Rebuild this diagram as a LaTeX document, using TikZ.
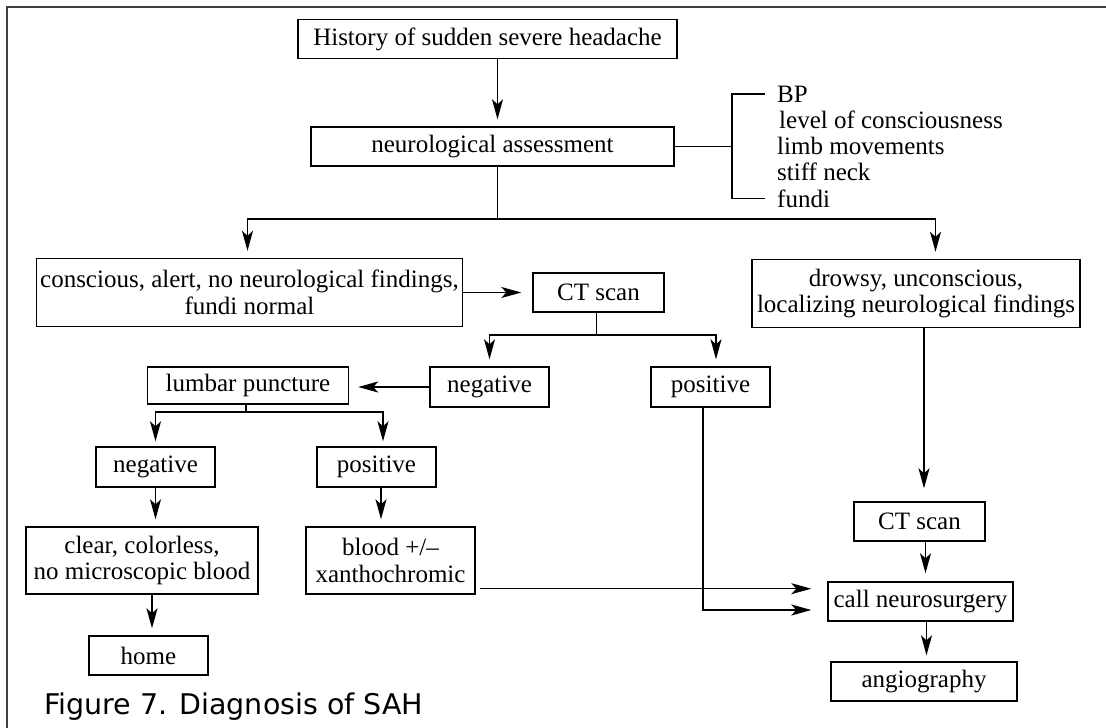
\documentclass[tikz,border=0pt]{standalone}
\usepackage{fontspec}
\setmainfont{Liberation Serif}
\newfontfamily\capfont{DejaVu Sans}
\usetikzlibrary{arrows.meta}

\begin{document}
\begin{tikzpicture}[x=1pt, y=-1pt, >={Stealth[length=20pt,width=11pt,inset=5pt]},
    font=\fontsize{25}{26.5}\selectfont,
    box/.style={draw, line width=1.4pt, inner sep=0pt, minimum height=39pt, align=center},
    tall/.style={box, minimum height=68pt},
    link/.style={line width=1.4pt},
    arr/.style={link, ->, shorten >=7pt}]
    \useasboundingbox (0,0) rectangle (1106,728);
    \draw[line width=2pt, black!75] (1106,7) -- (7,7) -- (7,728);

    \node[box, minimum width=379pt] (hist) at (487.5,39) {History of sudden severe headache};
    \node[box, minimum width=363pt] (neuro) at (492.5,146.5) {neurological assessment};
    \foreach \t [count=\i] in {BP, \hspace*{2pt}level of consciousness, limb movements, stiff neck, fundi}
        \node[anchor=base west, inner sep=0pt] (c\i) at (777,75.75+26.25*\i) {\t};
    \coordinate (brk) at (732,146.5);
    \draw[link] (neuro.east) -- (brk);
    \draw[link] ([xshift=-12pt]c1.west) -| (brk) |- ([xshift=-12pt]c5.west);

    \coordinate (jA) at (497.5,219);
    \draw[arr] (hist.south -| jA) -- (neuro.north -| jA);
    \node[tall, minimum width=426pt] (consc) at (249.5,292.5) {conscious, alert, no neurological findings,\\ fundi normal};
    \node[tall, minimum width=328pt] (drowsy) at (916,293.5) {drowsy, unconscious,\\ localizing neurological findings};
    \draw[link] (neuro.south -| jA) -- (jA);
    \draw[arr] (jA) -| ([xshift=-2pt]consc.north);
    \draw[arr] (jA) -| ([xshift=19.5pt]drowsy.north);

    \node[box, minimum width=131pt] (ct1) at (598.5,292.5) {CT scan};
    \draw[arr, shorten >=11pt] (consc.east) -- (ct1.west);

    \coordinate (jB) at (596.5,335);
    \node[box, minimum width=119pt, minimum height=40pt] (neg1) at (489.5,387) {negative};
    \node[box, minimum width=119pt, minimum height=40pt] (pos1) at (710.5,387) {positive};
    \draw[link] (ct1.south -| jB) -- (jB);
    \draw[arr] (jB) -| (neg1.north);
    \draw[arr] (jB) -| ([xshift=5.5pt]pos1.north);

    \node[box, minimum width=201pt, minimum height=37pt] (lp) at (248,385.5) {lumbar puncture};
    \draw[arr, shorten >=9pt] (neg1.west) -- (neg1.west -| lp.east);

    \coordinate (jC) at (246,412);
    \node[box, minimum width=119pt, minimum height=40pt] (neg2) at (155.5,467) {negative};
    \node[box, minimum width=119pt, minimum height=40pt] (pos2) at (376.5,467) {positive};
    \draw[link] (lp.south -| jC) -- (jC);
    \draw[arr, shorten >=5pt] (jC) -| (neg2.north);
    \draw[arr, shorten >=5pt] (jC) -| ([xshift=6.5pt]pos2.north);

    \node[tall, minimum width=232pt, minimum height=67pt] (clear) at (142,560.5) {clear, colorless,\\ no microscopic blood};
    \node[tall, minimum width=169pt, minimum height=67pt] (blood) at (390.5,560.5) {blood +/–\\ xanthochromic};
    \draw[arr] (neg2.south) -- (neg2.south |- clear.north);
    \draw[arr] ([xshift=4.5pt]pos2.south) -- ([xshift=4.5pt]pos2.south |- blood.north);

    \node[box, minimum width=119pt] (home) at (148.5,655.5) {home};
    \draw[arr] ([xshift=10pt]clear.south) -- ([xshift=10pt]clear.south |- home.north);

    \node[box, minimum width=131pt] (ct2) at (919.5,521.5) {CT scan};
    \node[box, minimum width=185pt] (call) at (920.5,601.5) {call neurosurgery};
    \node[box, minimum width=186pt] (angio) at (924,681.5) {angiography};
    \draw[arr, shorten >=13pt] ([xshift=8pt]drowsy.south) -- ([xshift=8pt]drowsy.south |- ct2.north);
    \draw[arr, shorten >=8pt] ([xshift=6pt]ct2.south) -- ([xshift=6pt]ct2.south |- call.north);
    \draw[arr, shorten >=6pt] ([xshift=6pt]call.south) -- ([xshift=6pt]call.south |- angio.north);

    \coordinate (bl) at ([xshift=4pt,yshift=6pt]blood.south east);
    \draw[arr, shorten >=16pt] (bl) -- (bl -| call.west);
    \draw[arr, shorten >=16pt] ([xshift=-7.5pt]pos1.south) |- ([yshift=-8.5pt]call.west);

    \node[anchor=base west, inner sep=0pt, font=\capfont\fontsize{28.5}{32}\selectfont] (cap) at (44,714) {Figure 7. Diagnosis of SAH};
\end{tikzpicture}
\end{document}
